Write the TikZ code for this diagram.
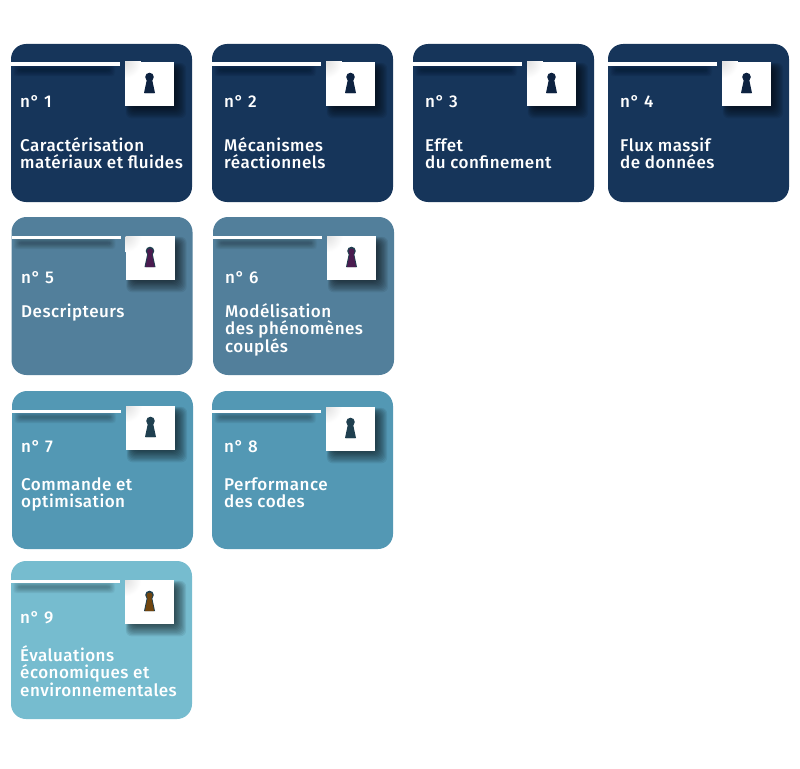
\documentclass[tikz,border=0pt]{standalone}
\usepackage{fontspec}
\setmainfont{Fira Sans Medium}
\usetikzlibrary{calc}
\definecolor{navycard}{HTML}{16355A}
\definecolor{slatecard}{HTML}{527F9B}
\definecolor{tealcard}{HTML}{5398B4}
\definecolor{skycard}{HTML}{76BCCF}
\definecolor{navykey}{HTML}{0D2240}
\definecolor{plumkey}{HTML}{4A1B4F}
\definecolor{slatekey}{HTML}{1F3F4F}
\definecolor{brownkey}{HTML}{70450F}
\tikzset{
  card/.style={rounded corners=15pt, inner sep=0pt},
  title/.style={text=white, font=\fontsize{17}{17}\selectfont\addfontfeatures{LetterSpace=2.8}, inner sep=0pt, anchor=north west, align=left},
  number/.style={text=white, font=\fontsize{17}{17}\selectfont\addfontfeatures{LetterSpace=3}, inner sep=0pt, anchor=base west},
  blur/.style={fill=black, fill opacity=0.07, draw=none},
  lineblur/.style={fill=black, fill opacity=0.022, draw=none},
}
% #1 x, #2 y, #3 y of square, #4 card colour, #5 edge of key, #6 key, #7 number, #8 text x, #9 number y
\newcommand{\keycard}[9]{
  \fill[card, #4] (#1,#2) rectangle ++(181,158);
  \foreach \b in {0,1,...,12} {
    \fill[lineblur, rounded corners=3pt] ($(#1,#2)+(8-\b*0.5,25-\b*0.35)$) rectangle ($(#1,#2)+(\b*0.5+98,27+\b*0.45)$);
    \fill[blur, rounded corners=6pt] ($(#1+114,#3)+(8-\b*0.6,8-\b*0.6)$) rectangle ($(#1+114,#3)+(48+\b*1.1,42+\b*1.2)$);
  }
  \fill[white] (#1,#2+18.5) rectangle ++(109,3.5);
  \fill[white] (#1+114,#3) rectangle ++(49,43.5);
  \begin{scope}
    \clip (#1+114,#3) rectangle ++(49,43.5);
    \shade[inner color=black!12, outer color=white] (#1+114,#3) circle (16);
  \end{scope}
  \fill[#5] (#1+138.5,#3+15) circle (4.3);
  \fill[#5] (#1+136.2,#3+16) -- (#1+140.8,#3+16) -- (#1+144,#3+31) -- (#1+133,#3+31) -- cycle;
  \fill[#6] (#1+138.5,#3+15.5) circle (3);
  \fill[#6] (#1+136.8,#3+17) -- (#1+140.2,#3+17) -- (#1+143,#3+31) -- (#1+134,#3+31) -- cycle;
  \node[number] (num#7) at (#8,#9) {n° #7};
}
\begin{document}
\begin{tikzpicture}[x=1pt,y=-1pt]
  \useasboundingbox (0,0) rectangle (800,768);
  \keycard{11}{44}{62}{navycard}{navykey}{navykey}{1}{20}{107}
  \node[title] (txt1) at (20,137) {\rule{0pt}{14pt}Caractérisation\\matériaux et fluides};
  \keycard{212}{44}{62}{navycard}{navykey}{navykey}{2}{224}{107}
  \node[title] (txt2) at (224,137) {\rule{0pt}{14pt}Mécanismes\\réactionnels};
  \keycard{413}{44}{62}{navycard}{navykey}{navykey}{3}{425}{107}
  \node[title] (txt3) at (425,137) {\rule{0pt}{14pt}Effet\\du confinement};
  \keycard{608}{44}{62}{navycard}{navykey}{navykey}{4}{620}{107}
  \node[title] (txt4) at (620,137) {\rule{0pt}{14pt}Flux massif\\de données};
  \keycard{11.5}{217}{236}{slatecard}{slatekey}{plumkey}{5}{21}{283}
  \node[title] (txt5) at (21,303) {\rule{0pt}{14pt}Descripteurs};
  \keycard{213}{217}{236}{slatecard}{slatekey}{plumkey}{6}{225}{283}
  \node[title] (txt6) at (225,303) {\rule{0pt}{14pt}Modélisation\\des phénomènes\\couplés};
  \keycard{12}{391}{406}{tealcard}{slatekey}{slatekey}{7}{21}{452}
  \node[title] (txt7) at (21,476) {\rule{0pt}{14pt}Commande et\\optimisation};
  \keycard{212}{391}{407}{tealcard}{slatekey}{slatekey}{8}{224}{452}
  \node[title] (txt8) at (224,476) {\rule{0pt}{14pt}Performance\\des codes};
  \keycard{11}{561}{580}{skycard}{slatekey}{brownkey}{9}{20}{623}
  \node[title] (txt9) at (20,645) {\rule{0pt}{14pt}Évaluations\\économiques et\\environnementales};
\end{tikzpicture}
\end{document}
